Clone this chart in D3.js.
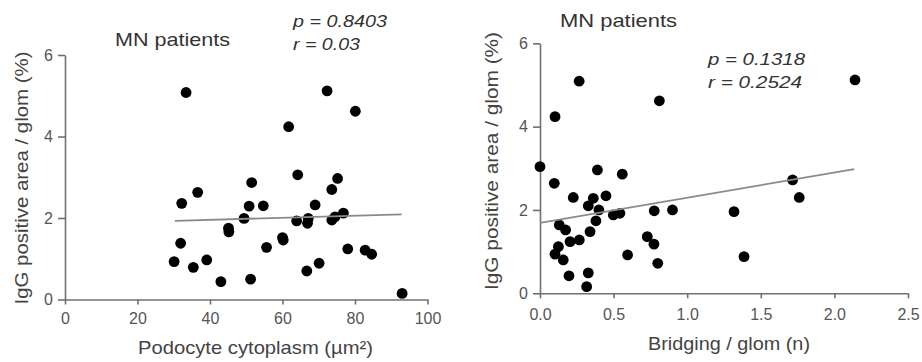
<!DOCTYPE html>
<html>
<head>
<meta charset="utf-8">
<script src="https://cdn.jsdelivr.net/npm/d3@7"></script>
<style>
  body { margin: 0; background: #fff; }
  svg { display: block; font-family: 'Liberation Sans', Arial, sans-serif; }
  .axis path, .axis line { stroke: #707070; stroke-width: 1.6; }
  .axis text { fill: #555; font-size: 16px; font-family: 'Liberation Sans', Arial, sans-serif; }
</style>
</head>
<body>
<div id="chart"></div>
<script>
// left panel: podocyte cytoplasm vs IgG area
const cytoX = [33.4, 72.3, 80.1, 61.7, 93.0, 32.2, 36.6, 51.5, 50.8, 54.7, 49.4, 45.1, 45.2, 31.9, 30.1, 35.4,
    39.1, 43.0, 51.2, 55.6, 60.0, 60.2, 64.2, 63.9, 67.1, 66.9, 69.0, 73.6, 75.2, 73.6, 74.5, 76.8,
    66.7, 70.1, 78.0, 82.8, 84.6]
const cytoY = [5.08, 5.12, 4.62, 4.24, 0.15, 2.36, 2.63, 2.87, 2.29, 2.30, 1.99, 1.75, 1.66, 1.38, 0.93, 0.79,
    0.97, 0.44, 0.50, 1.28, 1.52, 1.46, 3.06, 1.93, 1.99, 1.87, 2.32, 2.70, 2.97, 1.95, 2.03, 2.12,
    0.70, 0.89, 1.24, 1.21, 1.11]
const cytoFit = [[30.3, 1.93], [92.9, 2.09]]

// right panel: bridging vs IgG area
const bridgX = [2.14, 0.266, 0.811, 0.102, 0.0, 0.097, 0.39, 0.559, 0.226, 0.448, 0.362, 0.328, 0.40, 0.38,
    0.34, 0.498, 0.543, 0.776, 0.90, 0.131, 0.174, 0.204, 0.267, 0.125, 0.102, 0.158, 0.729, 0.774,
    0.595, 0.80, 0.197, 0.328, 0.317, 1.716, 1.761, 1.318, 1.386]
const bridgY = [5.12, 5.09, 4.62, 4.24, 3.04, 2.64, 2.96, 2.86, 2.30, 2.34, 2.28, 2.10, 2.00, 1.74,
    1.48, 1.88, 1.92, 1.98, 2.00, 1.64, 1.52, 1.24, 1.28, 1.12, 0.94, 0.80, 1.36, 1.18,
    0.92, 0.72, 0.42, 0.49, 0.16, 2.72, 2.30, 1.96, 0.88]
const bridgFit = [[0.0, 1.69], [2.135, 2.98]]

const yTicks = [0, 2, 4, 6]
const cytoTicks = [0, 20, 40, 60, 80, 100]
const bridgTicks = [0, 0.5, 1.0, 1.5, 2.0, 2.5]

const yTitle = 'IgG positive area / glom (%)'

const svg = d3.select('#chart').append('svg')
    .attr('width', 922)
    .attr('height', 362)

function panel(opt) {
    const x = d3.scaleLinear().domain(opt.xDomain).range(opt.xRange)
    const y = d3.scaleLinear().domain([0, 6]).range(opt.yRange)
    const g = svg.append('g')

    g.append('g')
        .attr('class', 'axis')
        .attr('transform', `translate(0,${opt.yRange[0]})`)
        .call(d3.axisBottom(x).tickValues(opt.xTicks).tickFormat(opt.xFormat)
            .tickSize(5).tickSizeOuter(0).tickPadding(opt.xPad))

    g.append('g')
        .attr('class', 'axis')
        .attr('transform', `translate(${opt.xRange[0]},0)`)
        .call(d3.axisLeft(y).tickValues(yTicks).tickFormat(d3.format('d'))
            .tickSize(7).tickSizeOuter(0).tickPadding(5))

    const pts = opt.xs.map((v, i) => ({ x: v, y: opt.ys[i] }))

    g.selectAll('.dot')
        .data(pts)
        .enter().append('circle')
        .attr('class', 'dot')
        .attr('r', 5.4)
        .attr('cx', d => x(d.x))
        .attr('cy', d => y(d.y))
        .attr('fill', '#000')

    g.append('path')
        .datum(opt.fit)
        .attr('fill', 'none')
        .attr('stroke', '#8a8a8a')
        .attr('stroke-width', 1.8)
        .attr('d', d3.line().x(d => x(d[0])).y(d => y(d[1])))

    // labels
    g.append('text')
        .attr('x', opt.title[0]).attr('y', opt.title[1])
        .attr('textLength', opt.title[2]).attr('lengthAdjust', 'spacingAndGlyphs')
        .attr('font-size', 19).attr('fill', '#333')
        .text('MN patients')

    opt.stats.forEach(s => {
        g.append('text')
            .attr('x', s[0]).attr('y', s[1])
            .attr('textLength', s[2]).attr('lengthAdjust', 'spacingAndGlyphs')
            .attr('font-size', 17).attr('font-style', 'italic').attr('fill', '#333')
            .text(s[3])
    })

    g.append('text')
        .attr('x', opt.xTitle[0]).attr('y', opt.xTitle[1])
        .attr('textLength', opt.xTitle[2]).attr('lengthAdjust', 'spacingAndGlyphs')
        .attr('font-size', 18.5).attr('fill', '#444')
        .text(opt.xTitle[3])

    g.append('text')
        .attr('transform', `translate(${opt.yTitle[0]},${opt.yTitle[1]}) rotate(-90)`)
        .attr('text-anchor', 'middle')
        .attr('textLength', opt.yTitle[2]).attr('lengthAdjust', 'spacingAndGlyphs')
        .attr('font-size', 18.5).attr('fill', '#444')
        .text(yTitle)
}

panel({
    xDomain: [0, 100], xRange: [65, 427.5], yRange: [299.5, 55],
    xTicks: cytoTicks, xFormat: d3.format('d'), xPad: 8,
    xs: cytoX, ys: cytoY, fit: cytoFit,
    title: [115, 46, 115],
    stats: [[293, 27, 94, 'p = 0.8403'], [293, 50, 67, 'r = 0.03']],
    xTitle: [138, 354, 235, 'Podocyte cytoplasm (\u00b5m\u00b2)'],
    yTitle: [28, 178, 253]
})

panel({
    xDomain: [0, 2.5], xRange: [540, 908], yRange: [293.3, 43.3],
    xTicks: bridgTicks, xFormat: d3.format('.1f'), xPad: 10,
    xs: bridgX, ys: bridgY, fit: bridgFit,
    title: [560, 27, 117],
    stats: [[708, 65, 97, 'p = 0.1318'], [708, 88, 94, 'r = 0.2524']],
    xTitle: [648, 350, 162, 'Bridging / glom (n)'],
    yTitle: [498, 161, 258]
})
</script>
</body>
</html>
